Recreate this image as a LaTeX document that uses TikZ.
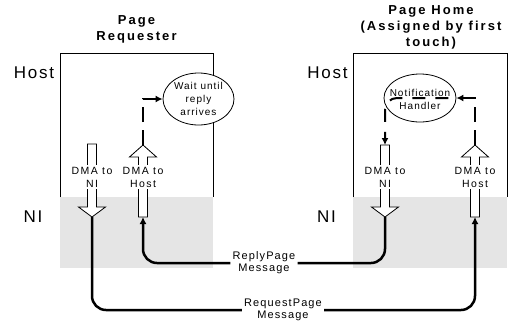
\documentclass[tikz,border=0pt]{standalone}
\usepackage{fontspec}
\setmainfont{Liberation Sans}[LetterSpace=10]
\usetikzlibrary{arrows.meta,shapes.geometric}

\tikzset{
  x=1pt, y=-1pt,
  frame/.style={line width=0.8pt},
  nizone/.style={fill=gray!20, draw=none},
  hollow/.style={draw, fill=white, line width=0.8pt, line join=miter},
  dmalabel/.style={fill=white, inner sep=1.5pt, align=center,
    font=\fontsize{10.5}{13}\selectfont\addfontfeature{LetterSpace=14}},
  layer/.style={font=\fontsize{17}{20}\selectfont, inner sep=0pt},
  title/.style={align=center, inner sep=0pt,
    font=\fontsize{13}{16}\selectfont\bfseries\addfontfeature{LetterSpace=16}},
  bubble/.style={ellipse, draw, fill=white, line width=0.8pt, inner sep=0pt},
  bubbletext/.style={align=center, inner sep=0pt,
    font=\fontsize{10}{13}\selectfont},
  dashline/.style={line width=2pt, dash pattern=on 15pt off 8pt},
  msg/.style={line width=2.5pt, rounded corners=14pt},
  msglabel/.style={align=center, inner sep=2pt,
    font=\fontsize{11}{12}\selectfont},
  tip/.style={-{Latex[length=7pt,width=7pt]}},
}

\begin{document}
\begin{tikzpicture}
\useasboundingbox (0,0) rectangle (509,325);

% network-interface zones
\fill[nizone] (60,197) rectangle (213,268);
\fill[nizone] (353,197) rectangle (507,268);

% host frames (open at the bottom)
\draw[frame] (60,197) -- (60,53) -- (213,53) -- (213,197);
\draw[frame] (353,197) -- (353,53) -- (507,53) -- (507,197);

% titles and layer labels
\node[title] (reqtitle) at (136.5,29) {Page\\Requester};
\node[title] (hometitle) at (431,27.5) {Page Home\\(Assigned by first\\touch)};
\node[layer] (hostL) at (34,73) {Host};
\node[layer] (niL) at (33,217) {NI};
\node[layer] (hostR) at (327.5,73) {Host};
\node[layer] (niR) at (326.5,217) {NI};

% hollow DMA arrows
% requester: DMA to NI (down)
\draw[hollow] (87.5,144) -- (96.5,144) -- (96.5,207) -- (105.5,207)
  -- (92,217) -- (78.5,207) -- (87.5,207) -- cycle;
% requester: DMA to Host (up)
\draw[hollow] (138.5,217) -- (147.5,217) -- (147.5,157) -- (156.5,157)
  -- (143,145) -- (129.5,157) -- (138.5,157) -- cycle;
% home: DMA to NI (down)
\draw[hollow] (380.5,145) -- (389.5,145) -- (389.5,207) -- (398.5,207)
  -- (385,217) -- (371.5,207) -- (380.5,207) -- cycle;
% home: DMA to Host (up)
\draw[hollow] (470.5,217) -- (479.5,217) -- (479.5,157) -- (488.5,157)
  -- (475,145) -- (461.5,157) -- (470.5,157) -- cycle;

\coordinate (lNItip) at (92,217);
\coordinate (lHostTip) at (143,145);
\coordinate (lHostBot) at (143,217);
\coordinate (rNItop) at (385,145);
\coordinate (rNItip) at (385,217);
\coordinate (rHostTip) at (475,145);
\coordinate (rHostBot) at (475,217);

\node[dmalabel] (lbl1) at (92,177) {DMA to\\NI};
\node[dmalabel] (lbl2) at (143,177) {DMA to\\Host};
\node[dmalabel] (lbl3) at (385,177) {DMA to\\NI};
\node[dmalabel] (lbl4) at (475,177) {DMA to\\Host};

% host-side handlers
\node[bubble, minimum width=71pt, minimum height=52pt] (wait) at (198.5,99) {};
\node[bubbletext] (waittext) at (198.5,99) {Wait until\\reply\\arrives};
\node[bubble, minimum width=72pt, minimum height=48pt] (nh) at (420,98) {};
\node[bubbletext] (nhtext) at (420,99.5) {Notification\\Handler};

% host-side control flow
\draw[dashline, tip] (lHostTip) |- (wait.west);
\draw[dashline, tip] (rHostTip) |- (nh.east);
\draw[line width=2pt, dash pattern=on 13pt off 10pt, rounded corners=12pt, tip]
  ([xshift=-8pt]nh.east) -- (rNItop |- nh.east) -- (rNItop);

% messages between network interfaces
\node[msglabel] (reply) at (264,263) {ReplyPage\\Message};
\node[msglabel] (request) at (283,310) {RequestPage\\Message};

\draw[msg] (rNItip) |- (reply.east);
\draw[msg, tip] (reply.west) -| (lHostBot);
\draw[msg] (lNItip) |- (request.west);
\draw[msg, tip] (request.east) -| (rHostBot);
\end{tikzpicture}
\end{document}
